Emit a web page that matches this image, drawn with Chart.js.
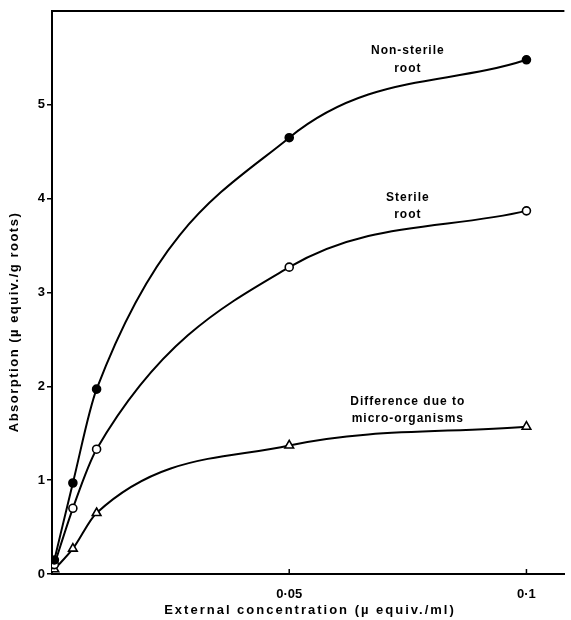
<!DOCTYPE html>
<html>
<head>
<meta charset="utf-8">
<script src="https://cdn.jsdelivr.net/npm/chart.js@4.4.1/dist/chart.umd.min.js"></script>
<style>
  html, body { margin: 0; padding: 0; background: #fff; }
  #wrap { width: 571px; height: 620px; position: relative; }
</style>
</head>
<body>
<div id="wrap"><canvas id="c"></canvas></div>
<script>
// External concentration (µ equiv./ml)
const concentration = [0.0005, 0.0044, 0.0094, 0.05, 0.1];
// Absorption (µ equiv./g roots)
const nonSterile = [0.15, 0.97, 1.97, 4.65, 5.48];
const sterile    = [0.10, 0.70, 1.33, 3.27, 3.87];
const difference = [0.05, 0.27, 0.65, 1.37, 1.57];

const xTickValues = [0.05, 0.1];
const xTickLabels = ['0·05', '0·1'];
const yTickValues = [0, 1, 2, 3, 4, 5];

// Curve captions, placed in data units
const captions = [
  { lines: ['Non-sterile', 'root'], x: 0.075, y: [5.58, 5.39] },
  { lines: ['Sterile', 'root'], x: 0.075, y: [4.01, 3.83] },
  { lines: ['Difference due to', 'micro-organisms'], x: 0.075, y: [1.84, 1.65] }
];

const FONT = '"Liberation Sans", Arial, sans-serif';

function pts(ys) { return concentration.map((x, i) => ({ x, y: ys[i] })); }

function series(label, ys, style, fill) {
  return {
    label,
    data: pts(ys),
    borderColor: '#000',
    borderWidth: 2,
    cubicInterpolationMode: 'monotone',
    pointStyle: style,
    pointRadius: style === 'triangle' ? 5 : 4,
    pointBackgroundColor: fill,
    pointBorderColor: '#000',
    pointBorderWidth: 1.6,
    fill: false
  };
}

// Frame top line, inward x ticks, titles and curve captions
const decor = {
  id: 'decor',
  afterDraw(chart) {
    const { ctx, chartArea: a, scales: { x, y } } = chart;
    ctx.save();
    ctx.strokeStyle = '#000';
    ctx.lineWidth = 2;
    ctx.beginPath();
    ctx.moveTo(a.left - 1, a.top);
    ctx.lineTo(a.right, a.top);
    ctx.stroke();

    ctx.lineWidth = 1.5;
    xTickValues.forEach(v => {
      const px = x.getPixelForValue(v);
      ctx.beginPath();
      ctx.moveTo(px, a.bottom);
      ctx.lineTo(px, a.bottom - 5);
      ctx.stroke();
    });

    ctx.fillStyle = '#000';
    ctx.font = 'bold 12px ' + FONT;
    ctx.letterSpacing = '1px';
    ctx.textAlign = 'center';
    ctx.textBaseline = 'middle';
    captions.forEach(c => {
      const px = x.getPixelForValue(c.x);
      c.lines.forEach((t, i) => ctx.fillText(t, px, y.getPixelForValue(c.y[i])));
    });

    ctx.font = 'bold 13px ' + FONT;
    ctx.letterSpacing = '2px';
    ctx.fillText('External concentration (\u00b5 equiv./ml)', 310, 610);

    ctx.letterSpacing = '1.5px';
    ctx.translate(14, 322);
    ctx.rotate(-Math.PI / 2);
    ctx.fillText('Absorption (\u00b5 equiv./g roots)', 0, 0);
    ctx.restore();
  }
};

new Chart(document.getElementById('c'), {
  type: 'line',
  data: {
    datasets: [
      series('Non-sterile root', nonSterile, 'circle', '#000'),
      series('Sterile root', sterile, 'circle', '#fff'),
      series('Difference due to micro-organisms', difference, 'triangle', '#fff')
    ]
  },
  options: {
    responsive: true,
    maintainAspectRatio: false,
    animation: false,
    layout: { padding: { top: 11, right: 6, left: 0, bottom: 0 } },
    plugins: { legend: { display: false }, tooltip: { enabled: false } },
    scales: {
      x: {
        type: 'linear',
        min: 0,
        max: 0.108,
        afterBuildTicks(s) { s.ticks = xTickValues.map(v => ({ value: v })); },
        afterFit(s) { s.height = 46; },
        grid: { display: false },
        border: { display: true, color: '#000', width: 2 },
        ticks: {
          padding: 5,
          color: '#000',
          font: { family: FONT, size: 13, weight: 'bold' },
          callback: v => xTickLabels[xTickValues.indexOf(v)]
        }
      },
      y: {
        min: 0,
        max: 6,
        afterBuildTicks(s) { s.ticks = yTickValues.map(v => ({ value: v })); },
        afterFit(s) { s.width = 52; },
        grid: { display: true, drawOnChartArea: false, drawTicks: true, tickLength: 5, color: '#000', lineWidth: 1.5 },
        border: { display: true, color: '#000', width: 2 },
        ticks: {
          padding: 2,
          color: '#000',
          font: { family: FONT, size: 13, weight: 'bold' },
          callback: v => String(v)
        }
      }
    }
  },
  plugins: [decor]
});
</script>
</body>
</html>
